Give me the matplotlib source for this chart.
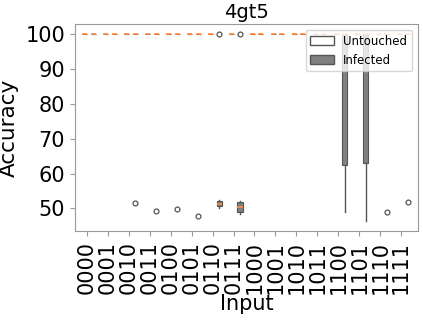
import matplotlib
matplotlib.use("Agg")
import matplotlib.pyplot as plt
from matplotlib.patches import Patch

inputs = ["0000", "0001", "0010", "0011", "0100", "0101", "0110", "0111",
          "1000", "1001", "1010", "1011", "1100", "1101", "1110", "1111"]

# untouched: always 100
untouched_med = [100] * 16

# infected box stats per input (q1, median, q3, whisker low, whisker high)
inf_q1 = [100, 100, 100, 100, 100, 100, 50.7, 48.9, 100, 100, 100, 100, 62.4, 63.0, 100, 100]
inf_med = [100, 100, 100, 100, 100, 100, 51.4, 50.5, 100, 100, 100, 100, 100, 100, 100, 100]
inf_q3 = [100, 100, 100, 100, 100, 100, 52.2, 51.7, 100, 100, 100, 100, 100, 100, 100, 100]
inf_lo = [100, 100, 100, 100, 100, 100, 50.0, 48.4, 100, 100, 100, 100, 49.1, 46.4, 100, 100]
inf_hi = [100, 100, 100, 100, 100, 100, 52.3, 52.0, 100, 100, 100, 100, 100, 100, 100, 100]
inf_fliers = [[], [], [51.5], [49.3], [49.7], [47.7], [100], [100],
              [], [], [], [], [], [], [49.1], [51.9]]

yticks = [50, 60, 70, 80, 90, 100]

edge = "#555555"

fig, ax = plt.subplots(figsize=(4.23, 3.2), dpi=100)

unt_stats = [dict(med=m, q1=m, q3=m, whislo=m, whishi=m, fliers=[]) for m in untouched_med]
inf_stats = [dict(med=inf_med[i], q1=inf_q1[i], q3=inf_q3[i], whislo=inf_lo[i],
                  whishi=inf_hi[i], fliers=inf_fliers[i]) for i in range(len(inputs))]

common = dict(widths=0.24, patch_artist=True, showcaps=False,
              whiskerprops=dict(color=edge, linewidth=1),
              medianprops=dict(color="#ff8c3a", linewidth=1.2, zorder=3),
              flierprops=dict(marker="o", markerfacecolor="none", markeredgecolor=edge,
                              markersize=3.5, markeredgewidth=0.9))
ax.bxp(unt_stats, positions=[i - 0.09 for i in range(16)],
       boxprops=dict(facecolor="white", edgecolor=edge, linewidth=0.8), **common)
ax.bxp(inf_stats, positions=[i + 0.31 for i in range(16)],
       boxprops=dict(facecolor="#808080", edgecolor=edge, linewidth=0.8), **common)

ax.set_xlim(-0.57, 15.8)
ax.set_ylim(43.5, 102.9)
ax.set_yticks(yticks)
ax.set_xticks(range(16))
ax.set_xticklabels(inputs, rotation=90, fontsize=15)
ax.tick_params(axis="y", labelsize=15)
for s in ax.spines.values():
    s.set_color("#999999")
ax.tick_params(colors="#999999", labelcolor="black")
ax.set_xlabel("Input", fontsize=15, labelpad=0)
ax.set_ylabel("Accuracy", fontsize=15.5, labelpad=5)
ax.set_title("4gt5", fontsize=14, pad=4)
ax.legend(handles=[Patch(facecolor="white", edgecolor=edge, label="Untouched"),
                   Patch(facecolor="#808080", edgecolor=edge, label="Infected")],
          loc="upper right", fontsize=8.5)

plt.subplots_adjust(left=0.177, right=0.988, top=0.925, bottom=0.278)
plt.savefig("out.png")
